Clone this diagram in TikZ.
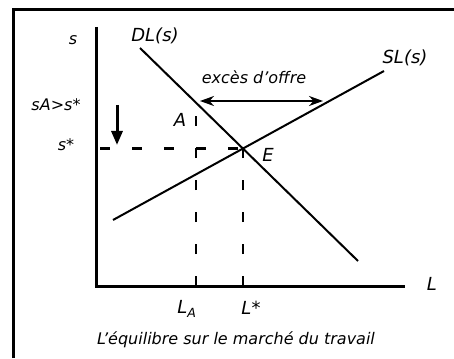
\documentclass[tikz,border=0pt]{standalone}
\usepackage{fontspec}
\setmainfont{DejaVu Sans}
\usetikzlibrary{arrows.meta}
\begin{document}
\begin{tikzpicture}[x=1pt,y=-1pt,
  lab/.style={font=\itshape\fontsize{16}{16}\selectfont, inner sep=0pt},
  mid/.style={font=\itshape\fontsize{16}{16}\selectfont, inner sep=0pt},
  big/.style={font=\itshape\fontsize{18}{18}\selectfont, inner sep=0pt},
  curve/.style={line width=2pt},
  axis/.style={line width=3pt},
  dsh/.style={line width=2.5pt, dash pattern=on 10pt off 22pt}]
\useasboundingbox (0,0) rectangle (454,358);
\fill[white] (0,0) rectangle (454,358);
% frame
\draw[line width=3pt] (13.5,358) -- (13.5,9.5) -- (454,9.5);
% axes
\coordinate (O) at (96,286);
\coordinate (ytop) at (96,27);
\coordinate (xend) at (405,286);
\draw[axis] (ytop) -- (O) -- (xend);
% curves
\coordinate (d1) at (140,48);
\coordinate (d2) at (358,261);
\coordinate (s1) at (113,220);
\coordinate (s2) at (384,71);
\draw[curve] (d1) -- (d2);
\draw[curve] (s1) -- (s2);
\coordinate (E) at (243,148.5);
\coordinate (A) at (196,102.7);
\coordinate (Abot) at (196,113);
\coordinate (LA) at (196,286);
\coordinate (Ls) at (243,286);
\coordinate (ss) at (96,148.5);
% dashed lines
\draw[dsh, dash phase=-4pt] (ss) -- (E);
\draw[dsh, dash phase=0pt] (LA) -- (Abot);
\draw[dsh, dash phase=0pt] (Ls) -- (E);
% excess supply arrow
\coordinate (xa) at (200,101);
\coordinate (xb) at (323,101);
\draw[line width=2pt, {Stealth[length=14pt,width=10pt]}-{Stealth[length=14pt,width=10pt]}] (xa) -- (xb);
% down arrow
\coordinate (da) at (117,105);
\coordinate (db) at (117,145);
\draw[line width=3pt, -{Triangle[length=14pt,width=11pt]}] (da) -- (db);
% labels
\node[lab] (ls) at (73,40) {s};
\node[lab] (lsa) at (56,105) {sA>s*};
\node[lab] (lss) at (66,145) {s*};
\node[big] (lDL) at (155,36) {DL(s)};
\node[big] (lSL) at (405,58) {SL(s)};
\node[mid] (lex) at (254,77) {excès d'offre};
\node[big] (lA) at (180,120) {A};
\node[big] (lE) at (268,155) {E};
\node[big] (lL) at (432,284) {L};
\node[big] (lLA) at (187,309) {L\textsubscript{A}};
\node[big] (lLs) at (251,308) {L*};
\node[mid] (cap) at (236,340) {L'équilibre sur le marché du travail};
\end{tikzpicture}
\end{document}
